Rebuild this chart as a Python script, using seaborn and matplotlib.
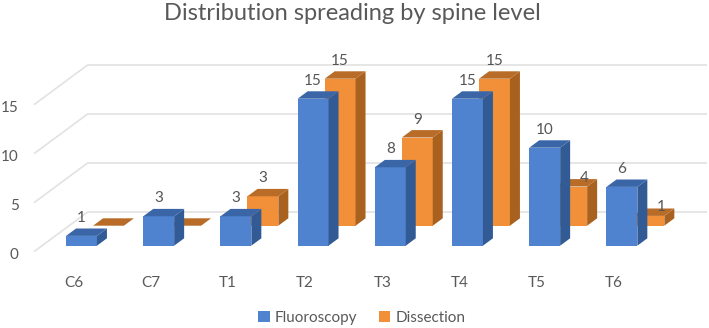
import pandas as pd
import matplotlib.pyplot as plt
import seaborn as sns
from matplotlib.patches import Polygon
from matplotlib.transforms import ScaledTranslation

levels = ["C6", "C7", "T1", "T2", "T3", "T4", "T5", "T6"]
fluoroscopy = [1, 3, 3, 15, 8, 15, 10, 6]
dissection = [0, 0, 3, 15, 9, 15, 4, 1]
y_ticks = [0, 5, 10, 15]

W, H = 709, 328
px_x = 77.2  # pixels per category
px_y = 9.8   # pixels per count

sns.set_theme(style="white")
plt.rcParams["font.family"] = ["Lato", "DejaVu Sans"]

df = pd.DataFrame({
    "level": levels * 2,
    "count": fluoroscopy + dissection,
    "series": ["Fluoroscopy"] * 8 + ["Dissection"] * 8,
})

front = {"Fluoroscopy": "#4f83cf", "Dissection": "#f19038"}
side = {"Fluoroscopy": "#325b96", "Dissection": "#a9611f"}
top = {"Fluoroscopy": "#3a66a8", "Dissection": "#b96c28"}

fig = plt.figure(figsize=(W / 100, H / 100), dpi=100)
left, right, base, ceil = 34, 707, 245.7, 45
ax = fig.add_axes([left / W, 1 - base / H, (right - left) / W, (base - ceil) / H])

sns.barplot(data=df, x="level", y="count", hue="series", palette=front,
            width=0.8, saturation=1, linewidth=0, ax=ax)

x0_px = 96.94
ax.set_xlim((left - x0_px) / px_x, (right - x0_px) / px_x)
ax.set_ylim(0, (base - ceil) / px_y)
sns.despine(ax=ax, left=True, bottom=True)

# floor / wall grid
for v in y_ticks:
    wall_x = (88 - x0_px) / px_x
    ax.plot([ax.get_xlim()[0], wall_x], [v - 0.61, v + 3.47], color="#e2e2e2", lw=1.2,
            clip_on=False, zorder=1, solid_capstyle="butt")
    ax.plot([wall_x, ax.get_xlim()[1]], [v + 3.47, v + 3.47], color="#e2e2e2", lw=1.2,
            clip_on=False, zorder=1, solid_capstyle="butt")

# fake 3D
depth_x, depth_y = 10 / px_x, 7.4 / px_y
back_x, back_y = 27 / px_x, 20 / px_y
blue_bars, orange_bars = ax.containers[0], ax.containers[1]

for name, bars, z in [("Dissection", orange_bars, 2), ("Fluoroscopy", blue_bars, 3)]:
    for b in bars:
        if name == "Dissection":
            # seaborn dodges by one bar width, the back row sits a bit closer
            b.set_x(b.get_x() + back_x - b.get_width())
            b.set_y(back_y)
        b.set_zorder(z)
        b.set_clip_on(False)
        x, y, w, h = b.get_x(), b.get_y(), b.get_width(), b.get_height()
        ax.add_patch(Polygon([(x + w, y), (x + w + depth_x, y + depth_y),
                              (x + w + depth_x, y + h + depth_y), (x + w, y + h)],
                             facecolor=side[name], edgecolor="none", zorder=z))
        ax.add_patch(Polygon([(x, y + h), (x + w, y + h),
                              (x + w + depth_x, y + h + depth_y), (x + depth_x, y + h + depth_y)],
                             facecolor=top[name], edgecolor="none", zorder=z))

# data labels
label_kw = dict(ha="center", va="center", fontsize=11, color="#555555", zorder=6)
lift = 18 / px_y
for b, val in zip(blue_bars, fluoroscopy):
    ax.text(b.get_x() + b.get_width() / 2, val + lift, str(val), **label_kw)
for b, val, lev in zip(orange_bars, dissection, levels):
    if val == 0:
        continue
    tx = b.get_x() + b.get_width() / 2
    ty = b.get_y() + val + lift
    if lev in ("T5", "T6"):
        tx += 12.5 / px_x
        ty -= 9.5 / px_y
    ax.text(tx, ty, str(val), **label_kw)

# tick labels sit off the front edge of the floor
ax.set_xlabel("")
ax.set_ylabel("")
ax.set_yticks(y_ticks)
ax.tick_params(axis="both", length=0, labelsize=11, labelcolor="#595959")
ax.tick_params(axis="y", pad=11)
ax.tick_params(axis="x", pad=22)
for lab in ax.get_yticklabels():
    lab.set_transform(lab.get_transform() + ScaledTranslation(0, -7.5 / 100, fig.dpi_scale_trans))
for lab in ax.get_xticklabels():
    lab.set_transform(lab.get_transform() + ScaledTranslation(-23.4 / 100, 0, fig.dpi_scale_trans))

sns.move_legend(ax, "center", bbox_to_anchor=(362 / W, 1 - 318 / H),
                bbox_transform=fig.transFigure, ncol=2, title=None, frameon=False,
                fontsize=11, labelcolor="#595959", handlelength=0.75, handleheight=0.75,
                handletextpad=0.35, columnspacing=1.4)

fig.text(352 / W, 1 - 13 / H, "Distribution spreading by spine level",
         ha="center", va="center", fontsize=17, color="#595959")

fig.savefig("out.png", dpi=100)
